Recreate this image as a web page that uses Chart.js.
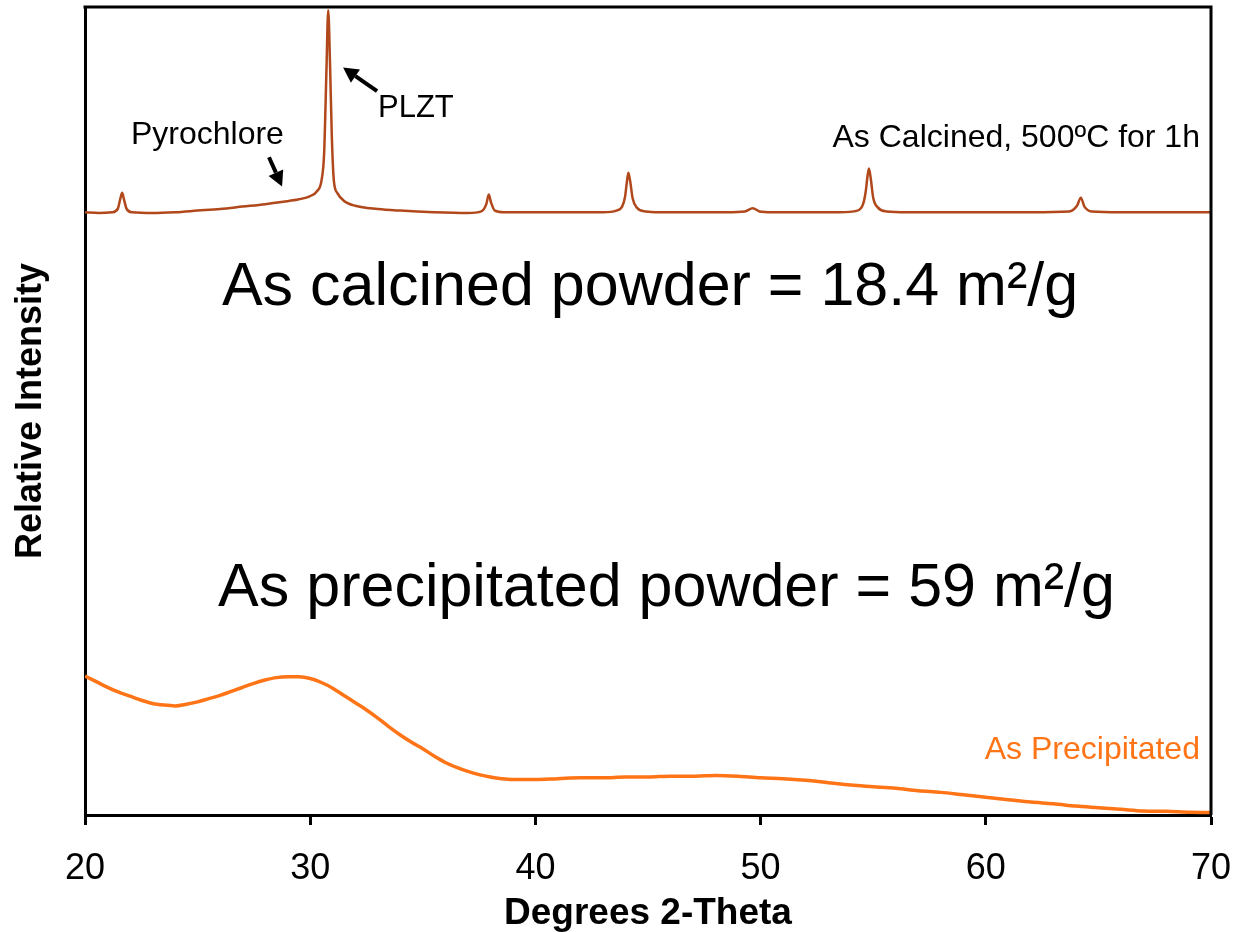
<!DOCTYPE html>
<html>
<head>
<meta charset="utf-8">
<script src="https://cdn.jsdelivr.net/npm/chart.js@4/dist/chart.umd.min.js"></script>
<style>
  html, body { margin: 0; padding: 0; background: #fff; }
  #wrap { width: 1236px; height: 932px; }
</style>
</head>
<body>
<div id="wrap"><canvas id="xrdChart" width="1236" height="932"></canvas></div>
<script>
// 2-theta positions and relative intensities
var calcinedTheta = [20.0, 20.6, 21.2, 21.45, 21.57, 21.65, 21.73, 21.85, 22.1, 23.0, 24.0, 25.0, 26.0, 27.0, 28.0, 28.8, 29.5, 30.0, 30.3, 30.5, 30.62, 30.72, 30.8, 30.88, 30.96, 31.05, 31.2, 31.5, 32.0, 33.0, 34.0, 35.5, 37.0, 37.6, 37.82, 37.93, 38.03, 38.2, 38.6, 40.0, 41.5, 43.0, 43.6, 43.85, 43.98, 44.06, 44.13, 44.21, 44.32, 44.5, 44.9, 45.5, 47.0, 48.5, 49.3, 49.65, 49.95, 50.5, 52.0, 53.5, 54.3, 54.55, 54.67, 54.74, 54.81, 54.89, 55.0, 55.2, 55.6, 56.5, 58.0, 60.0, 62.0, 63.7, 64.05, 64.22, 64.38, 64.7, 66.0, 68.0, 70.0];
var calcinedIntensity = [74.6, 74.5, 74.6, 75.0, 76.3, 77.0, 76.2, 75.0, 74.6, 74.5, 74.6, 74.8, 75.0, 75.3, 75.6, 75.9, 76.2, 76.6, 77.2, 78.5, 82.0, 92.0, 99.6, 93.0, 84.0, 78.5, 77.0, 76.0, 75.4, 75.0, 74.8, 74.6, 74.5, 74.7, 75.6, 76.8, 75.8, 74.8, 74.6, 74.6, 74.6, 74.6, 74.8, 75.3, 76.5, 78.3, 79.5, 78.4, 76.3, 75.2, 74.7, 74.6, 74.6, 74.6, 74.7, 75.1, 74.7, 74.6, 74.6, 74.6, 74.8, 75.6, 77.2, 78.9, 80.0, 78.8, 76.4, 75.2, 74.7, 74.6, 74.6, 74.6, 74.6, 74.7, 75.4, 76.4, 75.3, 74.7, 74.6, 74.6, 74.6];

var precipTheta = [20.0, 20.5, 21.0, 21.5, 22.0, 22.5, 23.0, 23.5, 24.0, 24.5, 25.0, 25.5, 26.0, 26.5, 27.0, 27.5, 28.0, 28.5, 29.0, 29.5, 30.0, 30.5, 31.0, 31.5, 32.0, 32.5, 33.0, 33.5, 34.0, 34.5, 35.0, 35.5, 36.0, 36.5, 37.0, 37.5, 38.0, 38.5, 39.0, 40.0, 41.0, 42.0, 43.0, 44.0, 45.0, 46.0, 47.0, 48.0, 49.0, 50.0, 51.0, 52.0, 53.0, 54.0, 55.0, 56.0, 57.0, 58.0, 59.0, 60.0, 61.0, 62.0, 63.0, 64.0, 65.0, 66.0, 67.0, 68.0, 69.0, 70.0];
var precipIntensity = [17.2, 16.5, 15.8, 15.2, 14.7, 14.2, 13.8, 13.6, 13.5, 13.7, 14.0, 14.4, 14.8, 15.3, 15.8, 16.3, 16.7, 17.0, 17.1, 17.1, 16.9, 16.4, 15.7, 14.8, 13.9, 13.0, 12.0, 10.9, 9.9, 9.0, 8.2, 7.3, 6.5, 5.9, 5.4, 5.0, 4.7, 4.5, 4.4, 4.4, 4.5, 4.6, 4.6, 4.7, 4.7, 4.8, 4.8, 4.9, 4.8, 4.6, 4.5, 4.3, 4.0, 3.7, 3.5, 3.3, 3.0, 2.8, 2.5, 2.2, 1.9, 1.6, 1.4, 1.1, 0.9, 0.7, 0.5, 0.45, 0.35, 0.3];

var xTicks = [20, 30, 40, 50, 60, 70];

var FONT = '"Liberation Sans", Arial, sans-serif';
var calcinedColor = '#B0481B';
var precipColor = '#FF7417';

function toPoints(xs, ys) {
    return xs.map(function (x, i) { return { x: x, y: ys[i] }; });
}

// frame on top/right plus the text notes and arrows
var notesPlugin = {
    id: 'notes',
    afterDatasetsDraw: function (chart) {
        var ctx = chart.ctx;
        var a = chart.chartArea;
        var xs = chart.scales.x, ys = chart.scales.y;
        var px = function (v) { return xs.getPixelForValue(v); };
        var py = function (v) { return ys.getPixelForValue(v); };

        ctx.save();
        ctx.strokeStyle = '#000';
        ctx.lineWidth = 3;
        ctx.beginPath();
        ctx.moveTo(a.left - 1.5, a.top);
        ctx.lineTo(a.right, a.top);
        ctx.lineTo(a.right, a.bottom);
        ctx.stroke();

        function text(str, x, y, size, align, color) {
            ctx.font = size + 'px ' + FONT;
            ctx.fillStyle = color || '#000';
            ctx.textAlign = align;
            ctx.textBaseline = 'alphabetic';
            ctx.fillText(str, px(x), py(y));
        }
        text('Pyrochlore', 22.04, 83.0, 32, 'left');
        text('PLZT', 33.01, 86.4, 31, 'left');
        text('As Calcined, 500ºC for 1h', 69.51, 82.7, 32, 'right');
        text('As calcined powder = 18.4 m²/g', 26.08, 63.1, 61, 'left');
        text('As precipitated powder = 59 m²/g', 25.91, 25.9, 61, 'left');
        text('As Precipitated', 69.51, 6.9, 32, 'right', precipColor);

        function arrow(x1, y1, x2, y2) {
            var ax = px(x1), ay = py(y1), bx = px(x2), by = py(y2);
            var ang = Math.atan2(by - ay, bx - ax);
            var head = 15, half = 8;
            var hx = bx - head * Math.cos(ang), hy = by - head * Math.sin(ang);
            ctx.strokeStyle = '#000';
            ctx.fillStyle = '#000';
            ctx.lineWidth = 4;
            ctx.beginPath();
            ctx.moveTo(ax, ay);
            ctx.lineTo(hx, hy);
            ctx.stroke();
            ctx.beginPath();
            ctx.moveTo(bx, by);
            ctx.lineTo(hx + half * Math.sin(ang), hy - half * Math.cos(ang));
            ctx.lineTo(hx - half * Math.sin(ang), hy + half * Math.cos(ang));
            ctx.closePath();
            ctx.fill();
        }
        arrow(28.17, 81.4, 28.75, 77.8);
        arrow(32.97, 89.6, 31.46, 92.5);
        ctx.restore();
    }
};

document.addEventListener("DOMContentLoaded", function () {
    var ctx = document.getElementById('xrdChart').getContext('2d');
    new Chart(ctx, {
        type: 'line',
        data: {
            datasets: [{
                label: 'As Calcined',
                data: toPoints(calcinedTheta, calcinedIntensity),
                borderColor: calcinedColor,
                borderWidth: 2.5,
                pointRadius: 0,
                cubicInterpolationMode: 'monotone'
            }, {
                label: 'As Precipitated',
                data: toPoints(precipTheta, precipIntensity),
                borderColor: precipColor,
                borderWidth: 3.5,
                pointRadius: 0,
                cubicInterpolationMode: 'monotone'
            }]
        },
        options: {
            responsive: false,
            animation: false,
            layout: { padding: { left: 0, right: 5, top: 7, bottom: 0 } },
            plugins: {
                legend: { display: false },
                tooltip: { enabled: false }
            },
            scales: {
                x: {
                    type: 'linear',
                    min: 20,
                    max: 70,
                    afterBuildTicks: function (scale) {
                        scale.ticks = xTicks.map(function (v) { return { value: v }; });
                    },
                    afterFit: function (scale) {
                        scale.height = 117;
                        scale.paddingLeft = 0;
                        scale.paddingRight = 25;
                    },
                    ticks: {
                        color: '#000',
                        padding: 22,
                        font: { family: FONT, size: 36 }
                    },
                    grid: {
                        drawOnChartArea: false,
                        drawTicks: true,
                        tickLength: 10,
                        tickWidth: 3,
                        tickColor: '#000'
                    },
                    border: { display: true, color: '#000', width: 3 },
                    title: {
                        display: true,
                        text: 'Degrees 2-Theta',
                        color: '#000',
                        padding: { top: 0, bottom: 0 },
                        font: { family: FONT, size: 37, weight: 'bold', lineHeight: 1.0 }
                    }
                },
                y: {
                    min: 0,
                    max: 100,
                    afterFit: function (scale) { scale.width = 85; },
                    ticks: { display: false },
                    grid: { drawOnChartArea: false, drawTicks: false },
                    border: { display: true, color: '#000', width: 3 },
                    title: {
                        display: true,
                        text: 'Relative Intensity',
                        color: '#000',
                        padding: { top: 9, bottom: 0 },
                        font: { family: FONT, size: 36, weight: 'bold' }
                    }
                }
            }
        },
        plugins: [notesPlugin]
    });
});
</script>
</body>
</html>
